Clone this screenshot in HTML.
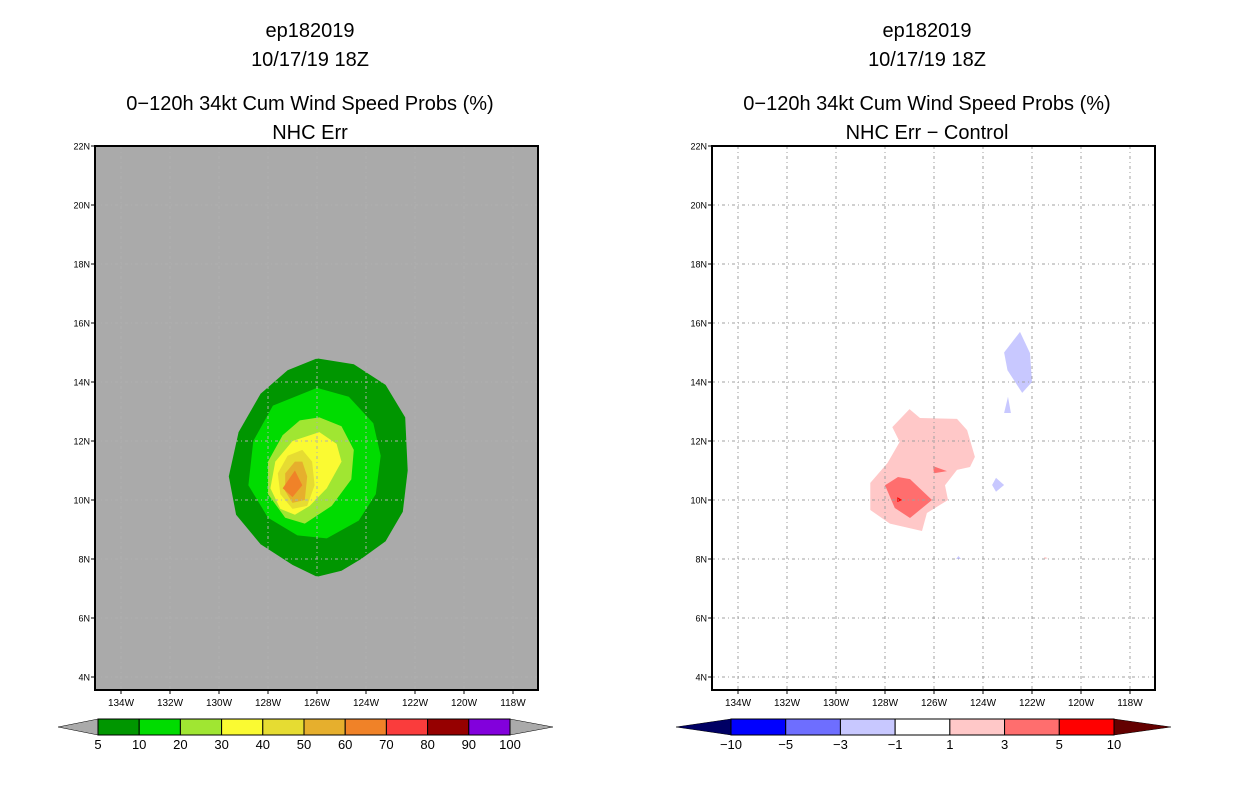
<!DOCTYPE html>
<html><head><meta charset="utf-8"><style>
body{margin:0;background:#fff;}
svg{display:block;font-family:"Liberation Sans",sans-serif;}
</style></head><body>
<svg id="s" width="1236" height="800" xmlns="http://www.w3.org/2000/svg">
<g font-size="20" text-anchor="middle" fill="#000">
<text x="310" y="37">ep182019</text><text x="310" y="66">10/17/19 18Z</text>
<text x="310" y="110">0−120h 34kt Cum Wind Speed Probs (%)</text><text x="310" y="139">NHC Err</text></g>
<g font-size="20" text-anchor="middle" fill="#000">
<text x="927" y="37">ep182019</text><text x="927" y="66">10/17/19 18Z</text>
<text x="927" y="110">0−120h 34kt Cum Wind Speed Probs (%)</text><text x="927" y="139">NHC Err − Control</text></g>
</svg>
<script>
const latTicks=[22,20,18,16,14,12,10,8,6,4];
const lonTicks=[134,132,130,128,126,124,122,120,118];
const probLevels=["5","10","20","30","40","50","60","70","80","90","100"];
const probColors=["#009600","#00dc00","#a0e632","#fafa32","#e6dc32","#e6af2d","#f08228","#fa3c3c","#960000","#8200dc"];
const diffLevels=["−10","−5","−3","−1","1","3","5","10"];
const diffColors=["#0000ff","#6e6eff","#c8c8ff","#ffffff","#ffc8c8","#ff6e6e","#ff0000"];
const p5=[[126.0,14.8],[124.5,14.6],[123.2,13.9],[122.4,12.8],[122.3,11.0],[122.5,9.6],[123.2,8.6],[124.2,8.0],[125.0,7.6],[126.0,7.4],[127.0,7.8],[128.3,8.5],[129.3,9.5],[129.6,10.8],[129.2,12.3],[128.3,13.6],[127.2,14.4]];
const p10=[[126.0,13.8],[124.7,13.5],[123.7,12.6],[123.4,11.5],[123.6,10.2],[124.3,9.3],[125.6,8.7],[126.8,8.8],[128.0,9.4],[128.8,10.5],[128.6,12.0],[127.8,13.2]];
const p20=[[125.9,12.8],[125.0,12.5],[124.5,11.7],[124.6,10.7],[125.4,9.8],[126.5,9.2],[127.3,9.4],[128.0,10.2],[128.0,11.3],[127.4,12.2],[126.7,12.7]];
const p30=[[125.9,12.3],[125.2,11.9],[125.0,11.3],[125.6,10.4],[126.3,9.8],[126.9,9.5],[127.5,9.7],[127.9,10.4],[127.7,11.3],[127.0,12.0]];
const p40=[[126.6,11.7],[126.2,11.3],[126.1,10.5],[126.4,9.8],[127.0,9.7],[127.5,10.2],[127.6,10.9],[127.2,11.5]];
const p50=[[126.6,11.3],[126.4,10.8],[126.5,10.0],[127.0,9.9],[127.3,10.3],[127.3,10.9],[126.9,11.3]];
const p60=[[126.9,11.0],[126.6,10.5],[127.0,10.1],[127.4,10.4]];
const d1=[[127.0,13.08],[126.57,12.78],[125.06,12.75],[124.65,12.37],[124.33,11.46],[124.53,11.12],[125.06,11.02],[125.55,10.5],[125.43,10.0],[126.29,9.56],[126.49,8.95],[127.8,9.2],[128.6,9.66],[128.6,10.58],[127.9,11.25],[127.4,11.97],[127.7,12.47]];
const d3a=[[128.0,10.5],[127.47,10.78],[126.98,10.71],[126.08,10.0],[126.98,9.39],[127.6,9.73]];
const d3b=[[126.04,11.15],[125.47,10.98],[126.0,10.91]];
const d5=[[127.5,10.1],[127.3,10.0],[127.5,9.93]];
const d1b=[[121.5,8.07],[121.35,8.03],[121.5,7.99]];
const n1a=[[122.49,15.7],[122.08,14.98],[122.0,14.0],[122.4,13.63],[123.0,14.4],[123.14,15.0]];
const n1b=[[122.98,13.5],[122.86,12.95],[123.14,12.95]];
const n1c=[[123.47,10.75],[123.14,10.51],[123.47,10.28],[123.63,10.51]];
const n1d=[[125.0,8.1],[124.9,8.0],[125.1,8.0]];

const S=document.getElementById('s');const NS='http://www.w3.org/2000/svg';
function mk(t,a,p){const e=document.createElementNS(NS,t);for(const k in a)e.setAttribute(k,a[k]);(p||S).appendChild(e);return e;}
const yOf=lat=>146+(22-lat)*29.5;
function xOf(off){return lonW=>268+off+(128-lonW)*24.5;}
function poly(pts,fill,off,g,name){const X=xOf(off);const e=mk('polygon',{points:pts.map(p=>X(p[0]).toFixed(1)+','+yOf(p[1]).toFixed(1)).join(' '),fill:fill},g);

}
function panel(off,bg,polys,name){
 const g=mk('g',{});
 
 
 const L=95+off,R=538+off,T=146,B=690;
 mk('rect',{x:L,y:T,width:R-L,height:B-T,fill:bg},g);
 polys.forEach(p=>poly(p[0],p[1],off,g,p[2]));
 const X=xOf(off);
 const gc=off?'#a0a0a0':'#b0b0b0';
 lonTicks.forEach(l=>{const x=X(l);if(x>L&&x<R){const ln=mk('line',{x1:x,y1:T,x2:x,y2:B,stroke:gc,'stroke-dasharray':'3,3,1,3'},g);
  }
  const t=mk('text',{x:x,y:706,'font-size':10,'text-anchor':'middle'},g);t.textContent=l+'W';
  
  mk('line',{x1:x,y1:B,x2:x,y2:B+4,stroke:'#000'},g);});
 latTicks.forEach(l=>{const y=yOf(l);if(y>T+2&&y<B){const ln=mk('line',{x1:L,y1:y,x2:R,y2:y,stroke:gc,'stroke-dasharray':'3,3,1,3'},g);
  }
  const t=mk('text',{x:L-5,y:y+3.5,'font-size':9,'text-anchor':'end'},g);t.textContent=l+'N';
  
  mk('line',{x1:L-4,y1:y,x2:L,y2:y,stroke:'#000'},g);});
 mk('rect',{x:L,y:T,width:R-L,height:B-T,fill:'none',stroke:'#000','stroke-width':2},g);
}
panel(0,'#aaaaaa',[[p5,probColors[0],'contour-5'],[p10,probColors[1],'contour-10'],[p20,probColors[2],'contour-20'],[p30,probColors[3],'contour-30'],[p40,probColors[4],'contour-40'],[p50,probColors[5],'contour-50'],[p60,probColors[6],'contour-60']],'left-map');
panel(617,'#ffffff',[[d1,diffColors[4],'diff-1'],[d3a,diffColors[5],'diff-3'],[d3b,diffColors[5],'diff-3b'],[d5,diffColors[6],'diff-5'],[d1b,diffColors[4],'diff-1b'],[n1a,diffColors[2],'diff-neg1a'],[n1b,diffColors[2],'diff-neg1b'],[n1c,diffColors[2],'diff-neg1c'],[n1d,diffColors[2],'diff-neg1d']],'right-map');

function cbar(x0,x1,colors,labels,lt,rt,ltx,rtx,name){
 const g=mk('g',{});
 const y0=719,y1=735,w=(x1-x0)/colors.length;
 mk('polygon',{points:`${x0},${y0} ${ltx},${(y0+y1)/2} ${x0},${y1}`,fill:lt,stroke:'#000','stroke-width':0.5},g);
 mk('polygon',{points:`${x1},${y0} ${rtx},${(y0+y1)/2} ${x1},${y1}`,fill:rt,stroke:'#000','stroke-width':0.5},g);
 colors.forEach((c,i)=>{const r=mk('rect',{x:x0+i*w,y:y0,width:w,height:y1-y0,fill:c,stroke:'#000','stroke-width':1},g);
  });
 labels.forEach((l,i)=>{const t=mk('text',{x:x0+i*w,y:749,'font-size':13,'text-anchor':'middle'},g);t.textContent=l;
  });
}
cbar(98,510,probColors,probLevels,'#aaaaaa','#aaaaaa',58,553,'left-colorbar');
cbar(731,1114,diffColors,diffLevels,'#000064','#640000',676,1171,'right-colorbar');
</script>
</body></html>
